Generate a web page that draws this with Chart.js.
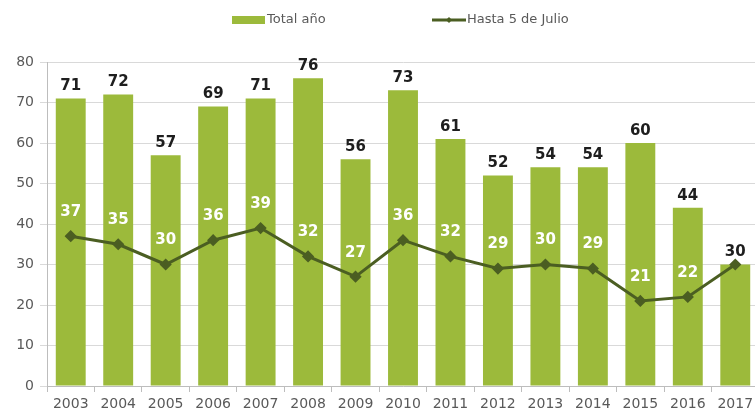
<!DOCTYPE html>
<html>
<head>
<meta charset="utf-8">
<script src="https://cdn.jsdelivr.net/npm/chart.js@4"></script>
<style>
  html, body { margin: 0; padding: 0; background: #fff; overflow: hidden; }
  #wrap { position: relative; width: 766px; height: 416px; }
</style>
</head>
<body>
<div id="wrap"><canvas id="myChart"></canvas></div>
<script>
const years = ['2003','2004','2005','2006','2007','2008','2009','2010','2011','2012','2013','2014','2015','2016','2017'];
const totalAnio = [71, 72, 57, 69, 71, 76, 56, 73, 61, 52, 54, 54, 60, 44, 30];
const hasta5Julio = [37, 35, 30, 36, 39, 32, 27, 36, 32, 29, 30, 29, 21, 22, 30];
const yTicks = [0, 10, 20, 30, 40, 50, 60, 70, 80];

const barColor = '#9cba3b';
const lineColor = '#4b5e22';
const fontFamily = '"DejaVu Sans", sans-serif';

// Legend drawn by hand so the two items can sit far apart like the original
const topLegend = {
    id: 'topLegend',
    afterDraw(chart) {
        const ctx = chart.ctx;
        ctx.save();
        ctx.font = '13px ' + fontFamily;
        ctx.textBaseline = 'middle';
        // bar item
        ctx.fillStyle = barColor;
        ctx.fillRect(232, 16, 33, 8);
        ctx.fillStyle = '#595959';
        ctx.fillText('Total año', 267, 20);
        // line item
        ctx.strokeStyle = lineColor;
        ctx.lineWidth = 3;
        ctx.beginPath();
        ctx.moveTo(432, 20);
        ctx.lineTo(466, 20);
        ctx.stroke();
        ctx.fillStyle = lineColor;
        ctx.beginPath();
        ctx.moveTo(449, 17); ctx.lineTo(452, 20); ctx.lineTo(449, 23); ctx.lineTo(446, 20);
        ctx.closePath();
        ctx.fill();
        ctx.fillStyle = '#595959';
        ctx.fillText('Hasta 5 de Julio', 467, 20);
        ctx.restore();
    }
};

// value labels: white above the line points, dark above the bars
const valueLabels = {
    id: 'valueLabels',
    afterDatasetsDraw(chart) {
        const ctx = chart.ctx;
        ctx.save();
        ctx.textAlign = 'center';
        ctx.textBaseline = 'middle';
        ctx.font = 'bold 15px ' + fontFamily;
        const lineMeta = chart.getDatasetMeta(1);
        ctx.fillStyle = '#ffffff';
        lineMeta.data.forEach((pt, i) => {
            ctx.fillText(hasta5Julio[i], pt.x, pt.y - 24);
        });
        const barMeta = chart.getDatasetMeta(0);
        ctx.fillStyle = '#1e1e1e';
        barMeta.data.forEach((bar, i) => {
            ctx.fillText(totalAnio[i], bar.x, bar.y - 12);
        });
        ctx.restore();
    }
};

const ctx = document.getElementById('myChart').getContext('2d');
new Chart(ctx, {
    type: 'bar',
    data: {
        labels: years,
        datasets: [{
            type: 'bar',
            label: 'Total año',
            data: totalAnio,
            backgroundColor: barColor,
            barPercentage: 0.63,
            categoryPercentage: 1.0,
            order: 2
        }, {
            type: 'line',
            label: 'Hasta 5 de Julio',
            data: hasta5Julio,
            borderColor: lineColor,
            backgroundColor: lineColor,
            borderWidth: 3,
            pointStyle: 'rectRot',
            pointRadius: 4,
            tension: 0,
            order: 1
        }]
    },
    options: {
        responsive: true,
        maintainAspectRatio: false,
        animation: false,
        layout: { padding: { top: 62, right: 0, bottom: 0, left: 0 } },
        plugins: {
            legend: { display: false },
            tooltip: { enabled: false }
        },
        scales: {
            x: {
                offset: true,
                grid: {
                    offset: true,
                    drawOnChartArea: false,
                    tickLength: 6,
                    color: '#bdbdbd'
                },
                border: { color: '#bdbdbd' },
                ticks: {
                    color: '#595959',
                    font: { family: fontFamily, size: 14 },
                    padding: 4,
                    maxRotation: 0,
                    autoSkip: false
                },
                afterFit(scale) { scale.height = 30; }
            },
            y: {
                min: 0,
                max: 80,
                afterBuildTicks(scale) {
                    scale.ticks = yTicks.map(v => ({ value: v }));
                },
                grid: {
                    color: '#d9d9d9',
                    tickLength: 7
                },
                border: { color: '#bdbdbd' },
                ticks: {
                    color: '#595959',
                    font: { family: fontFamily, size: 14 },
                    padding: 6
                },
                afterFit(scale) { scale.width = 47; }
            }
        }
    },
    plugins: [valueLabels, topLegend]
});
</script>
</body>
</html>
